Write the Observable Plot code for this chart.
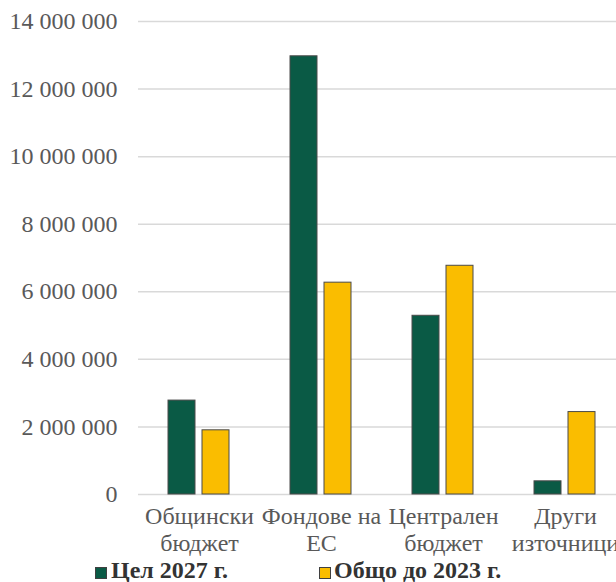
<!DOCTYPE html>
<html>
<head>
<meta charset="utf-8">
<script src="https://cdn.jsdelivr.net/npm/d3@7"></script>
<script src="https://cdn.jsdelivr.net/npm/@observablehq/plot@0.6"></script>
<style>
  html, body { margin: 0; padding: 0; background: #fff; overflow: hidden; width: 616px; height: 582px; }
  #wrap { position: relative; width: 616px; height: 582px; overflow: hidden; }
  .sw { position: absolute; width: 10px; height: 10px; border: 1px solid #404040; }
  .lt { position: absolute; font-family: "Liberation Serif", "Times New Roman", serif; font-weight: bold; font-size: 24px; line-height: 24px; color: #333; white-space: nowrap; }
</style>
</head>
<body>
<div id="wrap"></div>
<script>
const categories = ["Общински бюджет", "Фондове на ЕС", "Централен бюджет", "Други източници"];
const categoryLabels = ["Общински\nбюджет", "Фондове на\nЕС", "Централен\nбюджет", "Други\nизточници"];
const series = ["Цел 2027 г.", "Общо до 2023 г."];
const target2027 = [2780000, 12970000, 5290000, 390000];
const total2023 = [1900000, 6270000, 6770000, 2440000];
const yTicks = [0, 2000000, 4000000, 6000000, 8000000, 10000000, 12000000, 14000000];
const colors = ["#0a5a45", "#fabd00"];

const rows = [];
categories.forEach((c, i) => {
  rows.push({category: c, series: series[0], value: target2027[i]});
  rows.push({category: c, series: series[1], value: total2023[i]});
});

const fmt = d3.formatLocale({decimal: ",", thousands: " ", grouping: [3], currency: ["", ""]}).format(",");

const chart = Plot.plot({
  width: 626,
  height: 556,
  marginLeft: 138,
  marginRight: 0,
  marginTop: 21,
  marginBottom: 62,
  style: "font-family: 'Liberation Serif', 'Times New Roman', serif; font-size: 24px; color: #595959; background: transparent; max-width: none; overflow: visible;",
  fx: {domain: categories, padding: 0, label: null},
  x: {domain: series, paddingInner: 0.2, paddingOuter: 0.843, axis: null},
  y: {domain: [0, 14000000], label: null},
  color: {domain: series, range: colors},
  marks: [
    Plot.ruleY(yTicks, {stroke: "#d9d9d9", strokeWidth: 1.5}),
    Plot.barY(rows, {fx: "category", x: "series", y: "value", fill: "series", stroke: "#4a4a4a", strokeWidth: 1}),
    Plot.axisY(yTicks, {tickSize: 0, tickPadding: 21, tickFormat: fmt, label: null, fontSize: 24, fill: "#595959"}),
    Plot.axisFx({anchor: "bottom", tickSize: 0, tickPadding: 11, label: null, lineHeight: 1.1, fontSize: 24, fill: "#595959",
      tickFormat: d => categoryLabels[categories.indexOf(d)]})
  ]
});
chart.style.position = "absolute";
chart.style.left = "0px";
chart.style.top = "0px";
const wrap = document.getElementById("wrap");
wrap.appendChild(chart);

const legendPos = [{sw: 95, tx: 111}, {sw: 319, tx: 334}];
series.forEach((s, i) => {
  const sw = document.createElement("div");
  sw.className = "sw";
  sw.style.left = legendPos[i].sw + "px";
  sw.style.top = "567px";
  sw.style.background = colors[i];
  wrap.appendChild(sw);
  const t = document.createElement("div");
  t.className = "lt";
  t.style.left = legendPos[i].tx + "px";
  t.style.top = "558px";
  t.textContent = s;
  wrap.appendChild(t);
});
</script>
</body>
</html>
